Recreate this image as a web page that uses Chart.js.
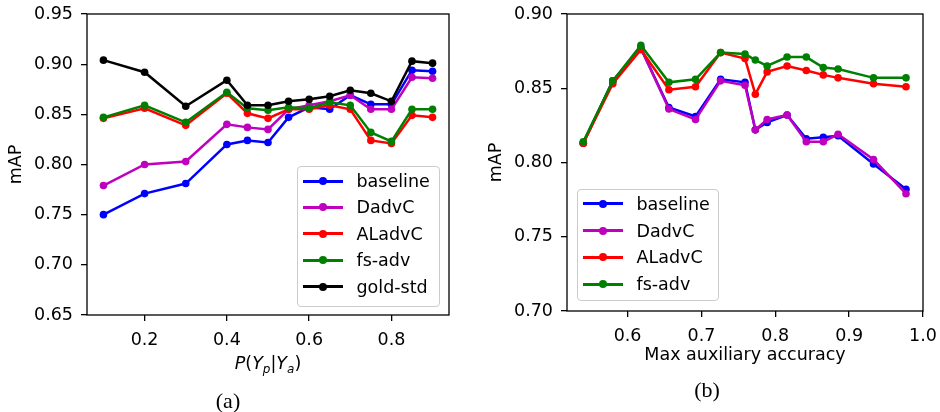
<!DOCTYPE html>
<html>
<head>
<meta charset="utf-8">
<script src="https://cdn.jsdelivr.net/npm/chart.js@4.4.1/dist/chart.umd.min.js"></script>
<style>
  body { margin: 0; background: #fff; font-family: "DejaVu Sans", sans-serif; }
  #page { position: relative; width: 940px; height: 412px; overflow: hidden; }
  canvas { position: absolute; top: 0; }
  .lbl { position: absolute; white-space: nowrap; font-size: 17.5px; color: #000; transform: translate(-50%, -50%); line-height: 1; }
  .cap { font-family: "Liberation Serif", "Times New Roman", serif; font-size: 22px; }
  .legend { position: absolute; border: 1px solid #cccccc; border-radius: 4px; background: rgba(255,255,255,0.8); box-sizing: border-box; }
  .row { position: absolute; height: 0; font-size: 17.5px; white-space: nowrap; }
  .row .ln { position: absolute; width: 40px; height: 3px; top: -1.5px; }
  .row .dot { position: absolute; width: 8px; height: 8px; border-radius: 50%; top: -4px; left: 16px; }
  .row .tx { position: absolute; top: -11px; line-height: 22px; }
</style>
</head>
<body>
<div id="page">
  <canvas id="chartA" width="470" height="380" style="left:0"></canvas>
  <canvas id="chartB" width="470" height="380" style="left:470px"></canvas>

  <div class="lbl" style="left:268px; top:365px;"><i>P</i>(<i>Y<sub style="font-size:12px">p</sub></i>|<i>Y<sub style="font-size:12px">a</sub></i>)</div>
  <div class="lbl" style="left:745px; top:355px;">Max auxiliary accuracy</div>
  <div class="lbl cap" style="left:228px; top:401px;">(a)</div>
  <div class="lbl cap" style="left:707px; top:390px;">(b)</div>

  <div id="legendA"></div>
  <div id="legendB"></div>
</div>

<script>
// ---- left panel (a): mAP vs P(Yp|Ya)
const probA = [0.1, 0.2, 0.3, 0.4, 0.45, 0.5, 0.55, 0.6, 0.65, 0.7, 0.75, 0.8, 0.85, 0.9];
const baselineA = [0.750, 0.771, 0.781, 0.820, 0.824, 0.822, 0.847, 0.857, 0.855, 0.869, 0.860, 0.860, 0.894, 0.893];
const dadvcA    = [0.779, 0.800, 0.803, 0.840, 0.837, 0.835, 0.855, 0.859, 0.863, 0.869, 0.855, 0.855, 0.887, 0.886];
const aladvcA   = [0.846, 0.856, 0.839, 0.871, 0.851, 0.846, 0.855, 0.855, 0.859, 0.855, 0.824, 0.821, 0.849, 0.847];
const fsadvA    = [0.847, 0.859, 0.842, 0.872, 0.856, 0.854, 0.857, 0.856, 0.862, 0.859, 0.832, 0.823, 0.855, 0.855];
const goldA     = [0.904, 0.892, 0.858, 0.884, 0.859, 0.859, 0.863, 0.865, 0.868, 0.874, 0.871, 0.863, 0.903, 0.901];
const xTicksA = [0.2, 0.4, 0.6, 0.8];
const yTicksA = [0.65, 0.70, 0.75, 0.80, 0.85, 0.90, 0.95];

// ---- right panel (b): mAP vs max auxiliary accuracy
const accB = [0.540, 0.580, 0.618, 0.656, 0.692, 0.726, 0.759, 0.773, 0.789, 0.816, 0.842, 0.865, 0.885, 0.933, 0.977];
const baselineB = [0.813, 0.855, 0.877, 0.837, 0.831, 0.856, 0.854, 0.822, 0.827, 0.832, 0.816, 0.817, 0.818, 0.799, 0.782];
const dadvcB    = [0.813, 0.855, 0.877, 0.836, 0.829, 0.855, 0.852, 0.822, 0.829, 0.832, 0.814, 0.814, 0.819, 0.802, 0.779];
const aladvcB   = [0.813, 0.853, 0.876, 0.849, 0.851, 0.874, 0.870, 0.846, 0.861, 0.865, 0.862, 0.859, 0.857, 0.853, 0.851];
const fsadvB    = [0.814, 0.855, 0.879, 0.854, 0.856, 0.874, 0.873, 0.869, 0.865, 0.871, 0.871, 0.864, 0.863, 0.857, 0.857];
const xTicksB = [0.6, 0.7, 0.8, 0.9, 1.0];
const yTicksB = [0.70, 0.75, 0.80, 0.85, 0.90];

const colors = { baseline: '#0000ff', DadvC: '#bf00bf', ALadvC: '#ff0000', 'fs-adv': '#008000', 'gold-std': '#000000' };
const font = { family: '"DejaVu Sans", sans-serif', size: 17.5 };

// spines on all four sides, like matplotlib
const framePlugin = {
    id: 'frame',
    afterDatasetsDraw(chart) {
        const a = chart.chartArea;
        const ctx = chart.ctx;
        ctx.save();
        ctx.strokeStyle = '#000';
        ctx.lineWidth = 1.3;
        ctx.strokeRect(a.left, a.top, a.right - a.left, a.bottom - a.top);
        ctx.restore();
    }
};

// fixed axis box sizes, no extra label overhang padding
function fixSize(s, w, h) {
    if (w != null) s.width = w;
    if (h != null) s.height = h;
    s.paddingLeft = 0;
    s.paddingRight = 0;
    s.paddingTop = 0;
    s.paddingBottom = 0;
}

function makeDatasets(xs, series) {
    return series.map((s, i) => ({
        label: s.label,
        data: xs.map((x, j) => ({ x: x, y: s.values[j] })),
        borderColor: colors[s.label],
        backgroundColor: colors[s.label],
        pointBackgroundColor: colors[s.label],
        borderWidth: 2.5,
        pointRadius: 3.8,
        pointBorderWidth: 0,
        tension: 0,
        order: series.length - i   // later series drawn on top
    }));
}

function makeChart(id, xs, series, cfg) {
    const axisGrid = { drawOnChartArea: false, drawTicks: true, tickLength: 6, color: '#000', lineWidth: 1.3 };
    return new Chart(document.getElementById(id), {
        type: 'line',
        data: { datasets: makeDatasets(xs, series) },
        options: {
            responsive: false,
            animation: false,
            layout: { padding: { left: 0, top: 14, right: cfg.padRight, bottom: 0 } },
            plugins: { legend: { display: false }, tooltip: { enabled: false } },
            scales: {
                x: {
                    type: 'linear',
                    min: cfg.xMin, max: cfg.xMax,
                    afterBuildTicks: s => { s.ticks = cfg.xTicks.map(v => ({ value: v })); },
                    afterFit: s => fixSize(s, null, cfg.xHeight),
                    grid: axisGrid,
                    border: { display: false },
                    ticks: { color: '#000', font: font, padding: 9, maxRotation: 0, callback: v => v.toFixed(1) }
                },
                y: {
                    type: 'linear',
                    min: cfg.yMin, max: cfg.yMax,
                    afterBuildTicks: s => { s.ticks = cfg.yTicks.map(v => ({ value: v })); },
                    afterFit: s => fixSize(s, cfg.yWidth, null),
                    grid: axisGrid,
                    border: { display: false },
                    ticks: { color: '#000', font: font, padding: 8, callback: v => v.toFixed(2) },
                    title: { display: true, text: 'mAP', color: '#000', font: font, padding: { top: cfg.titlePad, bottom: 0 } }
                }
            }
        },
        plugins: [framePlugin]
    });
}

function makeLegend(id, series, box, firstRow, rowStep) {
    const wrap = document.getElementById(id);
    const frame = document.createElement('div');
    frame.className = 'legend';
    frame.style.left = box.left + 'px';
    frame.style.top = box.top + 'px';
    frame.style.width = box.width + 'px';
    frame.style.height = box.height + 'px';
    wrap.appendChild(frame);
    series.forEach((s, i) => {
        const row = document.createElement('div');
        row.className = 'row';
        row.style.left = (box.left + 6) + 'px';
        row.style.top = (firstRow + i * rowStep) + 'px';
        const c = colors[s.label];
        row.innerHTML = '<span class="ln" style="background:' + c + '"></span>' +
                        '<span class="dot" style="background:' + c + '"></span>' +
                        '<span class="tx" style="left:' + 54 + 'px">' + s.label + '</span>';
        wrap.appendChild(row);
    });
}

const seriesA = [
    { label: 'baseline', values: baselineA },
    { label: 'DadvC', values: dadvcA },
    { label: 'ALadvC', values: aladvcA },
    { label: 'fs-adv', values: fsadvA },
    { label: 'gold-std', values: goldA }
];
const seriesB = [
    { label: 'baseline', values: baselineB },
    { label: 'DadvC', values: dadvcB },
    { label: 'ALadvC', values: aladvcB },
    { label: 'fs-adv', values: fsadvB }
];

makeChart('chartA', probA, seriesA, {
    xMin: 0.06, xMax: 0.94, yMin: 0.65, yMax: 0.95,
    xTicks: xTicksA, yTicks: yTicksA,
    yWidth: 87, xHeight: 65, padRight: 21, titlePad: 6
});
makeChart('chartB', accB, seriesB, {
    xMin: 0.518, xMax: 1.0, yMin: 0.70, yMax: 0.90,
    xTicks: xTicksB, yTicks: yTicksB,
    yWidth: 97, xHeight: 69, padRight: 17, titlePad: 16
});

makeLegend('legendA', seriesA, { left: 296.5, top: 166, width: 143, height: 141 }, 181, 26.4);
makeLegend('legendB', seriesB, { left: 576.5, top: 189, width: 142, height: 112 }, 203.7, 26.8);
</script>
</body>
</html>
